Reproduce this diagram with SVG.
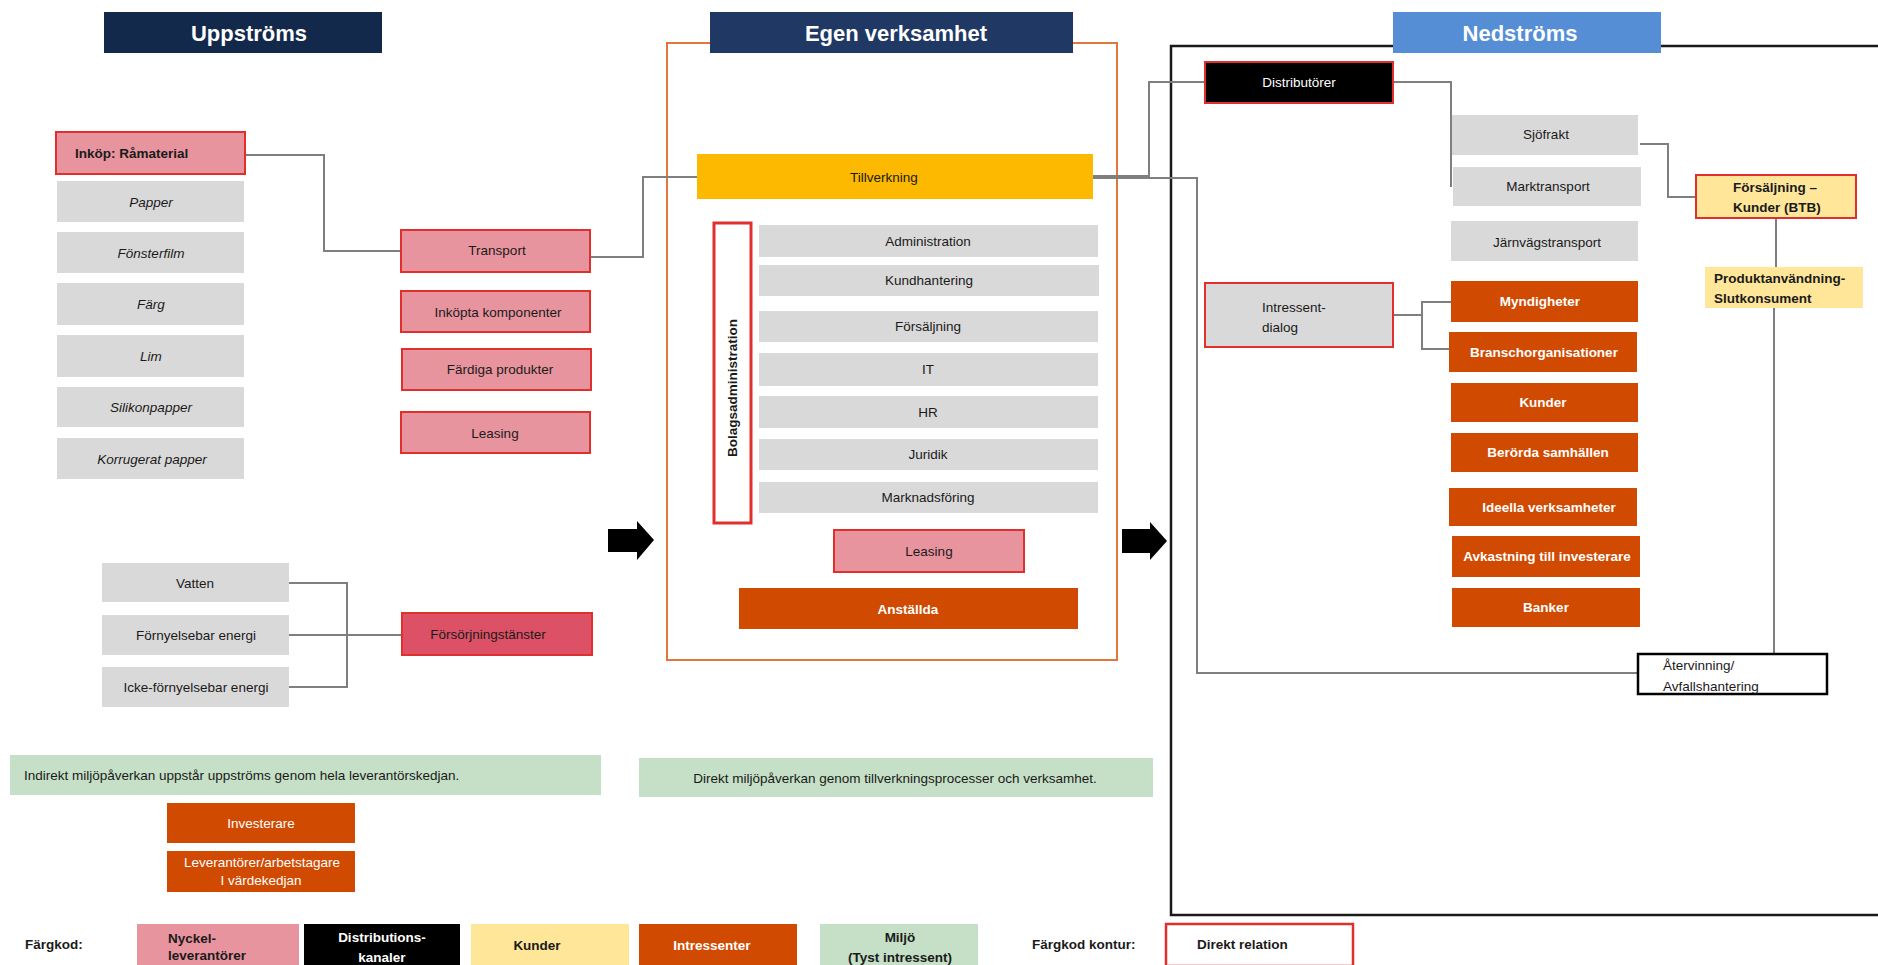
<svg xmlns="http://www.w3.org/2000/svg" width="1878" height="965" viewBox="0 0 1878 965">
<defs>
<style>
text{font-family:"Liberation Sans",Arial,sans-serif;dominant-baseline:central;fill:#1a1a1a;font-size:13.5px}
.m{text-anchor:middle}
.i{font-style:italic}
.b{font-weight:bold}
.w{fill:#fff}
.h{font-size:22px;font-weight:bold;fill:#fff;text-anchor:middle}
.g{fill:#D9D9D9}
.k{fill:#E8949E;stroke:#E0302E;stroke-width:2}
.kd{fill:#DC5166;stroke:#E0302E;stroke-width:2}
.o{fill:#D04A02}
.gr{fill:#C5E0C6}
.y{fill:#FFE699}
.c{fill:none;stroke:#7F7F7F;stroke-width:2}
.arr{fill:#000}
</style>
</defs>
<rect width="1878" height="965" fill="#fff"/>

<!-- frames -->
<g id="frame-egen"><rect x="667" y="43" width="450" height="617" fill="none" stroke="#E2773B" stroke-width="2"/></g>
<g id="frame-ned"><rect x="1171" y="46" width="712" height="869" fill="none" stroke="#1a1a1a" stroke-width="2.5"/></g>

<!-- headers -->
<g id="hdr-upp"><rect x="104" y="12" width="278" height="41" fill="#13294B"/><text class="h" x="249" y="33">Uppströms</text></g>
<g id="hdr-egen"><rect x="710" y="12" width="363" height="41" fill="#1F3864"/><text class="h" x="896" y="33">Egen verksamhet</text></g>
<g id="hdr-ned"><rect x="1393" y="12" width="268" height="41" fill="#558ED5"/><text class="h" x="1520" y="33">Nedströms</text></g>

<!-- connectors -->
<g id="connectors">
<path class="c" d="M245,155 H324 V251 H401"/>
<path class="c" d="M590,257 H643 V177 H697"/>
<path class="c" d="M289,583 H347 V687 H289 M289,635 H402"/>
<path class="c" d="M1093,176 H1149 V82 H1205"/>
<path class="c" d="M1093,178 H1197 V673 H1638"/>
<path class="c" d="M1393,82 H1451 V187"/>
<path class="c" d="M1640,144 H1668 V197 H1696"/>
<path class="c" d="M1393,315 H1422 M1451,302 H1422 V349 H1451"/>
<path class="c" d="M1776,218 V267 M1774,308 V654"/>
</g>

<!-- arrows -->
<g id="arrow-left"><path class="arr" d="M608,529 H637 V521 L654,540 L637,560 V552 H608 Z"/></g>
<g id="arrow-right"><path class="arr" d="M1122,529 H1150 V522 L1167,541 L1150,560 V553 H1122 Z"/></g>

<!-- Uppströms -->
<g id="n-inkop"><rect class="k" x="56" y="132" width="189" height="42"/><text class="b" x="75" y="153" font-size="13px">Inköp: Råmaterial</text></g>
<g id="n-papper"><rect class="g" x="57" y="181" width="187" height="41"/><text class="m i" x="151" y="202">Papper</text></g>
<g id="n-fonsterfilm"><rect class="g" x="57" y="232" width="187" height="41"/><text class="m i" x="151" y="253">Fönsterfilm</text></g>
<g id="n-farg"><rect class="g" x="57" y="283" width="187" height="42"/><text class="m i" x="151" y="304">Färg</text></g>
<g id="n-lim"><rect class="g" x="57" y="335" width="187" height="42"/><text class="m i" x="151" y="356">Lim</text></g>
<g id="n-silikon"><rect class="g" x="57" y="387" width="187" height="40"/><text class="m i" x="151" y="407">Silikonpapper</text></g>
<g id="n-korrugerat"><rect class="g" x="57" y="438" width="187" height="41"/><text class="m i" x="152" y="459">Korrugerat papper</text></g>

<g id="n-transport"><rect class="k" x="401" y="230" width="189" height="42"/><text class="m" x="497" y="250">Transport</text></g>
<g id="n-inkopta"><rect class="k" x="401" y="291" width="189" height="41"/><text class="m" x="498" y="312">Inköpta komponenter</text></g>
<g id="n-fardiga"><rect class="k" x="402" y="349" width="189" height="41"/><text class="m" x="500" y="369">Färdiga produkter</text></g>
<g id="n-leasing-up"><rect class="k" x="401" y="412" width="189" height="41"/><text class="m" x="495" y="433">Leasing</text></g>

<g id="n-vatten"><rect class="g" x="102" y="563" width="187" height="39"/><text class="m" x="195" y="583" font-size="13px">Vatten</text></g>
<g id="n-fornyelsebar"><rect class="g" x="102" y="615" width="187" height="40"/><text class="m" x="196" y="635" font-size="13px">Förnyelsebar energi</text></g>
<g id="n-icke"><rect class="g" x="102" y="667" width="187" height="40"/><text class="m" x="196" y="687" font-size="13px">Icke-förnyelsebar energi</text></g>
<g id="n-forsorjning"><rect class="kd" x="402" y="613" width="190" height="42"/><text class="m" x="488" y="634" font-size="13px">Försörjningstänster</text></g>

<g id="n-indirekt"><rect class="gr" x="10" y="755" width="591" height="40"/><text x="24" y="775" font-size="13.4px">Indirekt miljöpåverkan uppstår uppströms genom hela leverantörskedjan.</text></g>
<g id="n-investerare"><rect class="o" x="167" y="803" width="188" height="40"/><text class="m w" x="261" y="823" font-size="13px">Investerare</text></g>
<g id="n-leverantorer"><rect class="o" x="167" y="851" width="188" height="41"/><text class="m w" x="262" y="862" font-size="13px">Leverantörer/arbetstagare</text><text class="m w" x="261" y="880" font-size="13px">I värdekedjan</text></g>

<!-- Egen verksamhet -->
<g id="n-tillverkning"><rect x="697" y="154" width="396" height="45" fill="#FDB900"/><text class="m" x="884" y="177" font-size="13px">Tillverkning</text></g>
<g id="n-bolagsadmin"><rect x="714" y="223" width="37" height="300" fill="#fff" stroke="#E0302E" stroke-width="3"/><text class="m b" font-size="13px" transform="translate(732,388) rotate(-90)">Bolagsadministration</text></g>
<g id="n-administration"><rect class="g" x="759" y="225" width="339" height="32"/><text class="m" x="928" y="241" font-size="13.5px">Administration</text></g>
<g id="n-kundhantering"><rect class="g" x="759" y="265" width="340" height="31"/><text class="m" x="929" y="280" font-size="13.5px">Kundhantering</text></g>
<g id="n-forsaljning"><rect class="g" x="759" y="311" width="339" height="31"/><text class="m" x="928" y="326" font-size="13.5px">Försäljning</text></g>
<g id="n-it"><rect class="g" x="759" y="353" width="339" height="33"/><text class="m" x="928" y="369" font-size="13.5px">IT</text></g>
<g id="n-hr"><rect class="g" x="759" y="396" width="339" height="32"/><text class="m" x="928" y="412" font-size="13.5px">HR</text></g>
<g id="n-juridik"><rect class="g" x="759" y="439" width="339" height="31"/><text class="m" x="928" y="454" font-size="13.5px">Juridik</text></g>
<g id="n-marknadsforing"><rect class="g" x="759" y="482" width="339" height="31"/><text class="m" x="928" y="497" font-size="13.5px">Marknadsföring</text></g>
<g id="n-leasing-mid"><rect class="k" x="834" y="530" width="190" height="42"/><text class="m" x="929" y="551">Leasing</text></g>
<g id="n-anstallda"><rect class="o" x="739" y="588" width="339" height="41"/><text class="m b w" x="908" y="609">Anställda</text></g>
<g id="n-direkt"><rect class="gr" x="639" y="758" width="514" height="39"/><text class="m" x="895" y="778" font-size="13.8px">Direkt miljöpåverkan genom tillverkningsprocesser och verksamhet.</text></g>

<!-- Nedströms -->
<g id="n-distributorer"><rect x="1205" y="62" width="188" height="41" fill="#000" stroke="#E0302E" stroke-width="2"/><text class="m w" x="1299" y="82">Distributörer</text></g>
<g id="n-sjofrakt"><rect class="g" x="1452" y="115" width="186" height="40"/><text class="m" x="1546" y="134" font-size="14px">Sjöfrakt</text></g>
<g id="n-marktransport"><rect class="g" x="1453" y="167" width="188" height="39"/><text class="m" x="1548" y="186" font-size="14px">Marktransport</text></g>
<g id="n-jarnvag"><rect class="g" x="1451" y="221" width="187" height="40"/><text class="m" x="1547" y="242" font-size="14px">Järnvägstransport</text></g>
<g id="n-intressent"><rect x="1205" y="283" width="188" height="64" fill="#D9D9D9" stroke="#E0302E" stroke-width="2"/><text x="1262" y="307" font-size="14px">Intressent-</text><text x="1262" y="327" font-size="14px">dialog</text></g>
<g id="n-myndigheter"><rect class="o" x="1451" y="281" width="187" height="41"/><text class="m b w" x="1540" y="301" font-size="12.5px">Myndigheter</text></g>
<g id="n-bransch"><rect class="o" x="1449" y="332" width="188" height="40"/><text class="m b w" x="1544" y="352" font-size="12.5px">Branschorganisationer</text></g>
<g id="n-kunder"><rect class="o" x="1451" y="383" width="187" height="39"/><text class="m b w" x="1543" y="402" font-size="12.5px">Kunder</text></g>
<g id="n-berorda"><rect class="o" x="1451" y="433" width="187" height="39"/><text class="m b w" x="1548" y="452" font-size="12.5px">Berörda samhällen</text></g>
<g id="n-ideella"><rect class="o" x="1449" y="488" width="188" height="38"/><text class="m b w" x="1549" y="507" font-size="12.5px">Ideella verksamheter</text></g>
<g id="n-avkastning"><rect class="o" x="1452" y="536" width="188" height="41"/><text class="m b w" x="1547" y="556" font-size="12.5px">Avkastning till investerare</text></g>
<g id="n-banker"><rect class="o" x="1452" y="588" width="188" height="39"/><text class="m b w" x="1546" y="607" font-size="12.5px">Banker</text></g>
<g id="n-forsaljning-btb"><rect x="1696" y="175" width="160" height="43" fill="#FFE699" stroke="#E0302E" stroke-width="2"/><text class="b" x="1733" y="187">Försäljning –</text><text class="b" x="1733" y="207">Kunder (BTB)</text></g>
<g id="n-produkt"><rect class="y" x="1705" y="267" width="158" height="41"/><text class="b" x="1714" y="278">Produktanvändning-</text><text class="b" x="1714" y="298">Slutkonsument</text></g>
<g id="n-atervinning"><rect x="1638" y="654" width="189" height="40" fill="#fff" stroke="#000" stroke-width="2.5"/><text x="1663" y="665" font-size="14.5px">Återvinning/</text><text x="1663" y="686" font-size="14.5px">Avfallshantering</text></g>

<!-- legend -->
<g id="legend">
<text class="b" x="25" y="944" font-size="14px">Färgkod:</text>
<rect x="137" y="924" width="162" height="41" fill="#E8949E"/>
<text class="b" x="168" y="938" font-size="14px">Nyckel-</text><text class="b" x="168" y="955" font-size="14px">leverantörer</text>
<rect x="304" y="924" width="156" height="41" fill="#000"/>
<text class="m b w" x="382" y="937" font-size="14px">Distributions-</text><text class="m b w" x="382" y="957" font-size="14px">kanaler</text>
<rect x="471" y="924" width="158" height="41" fill="#FFE699"/>
<text class="m b" x="537" y="945" font-size="14px">Kunder</text>
<rect x="639" y="924" width="158" height="41" fill="#D04A02"/>
<text class="m b w" x="712" y="945" font-size="14px">Intressenter</text>
<rect x="820" y="924" width="158" height="41" fill="#C5E0C6"/>
<text class="m b" x="900" y="937" font-size="14px">Miljö</text><text class="m b" x="900" y="957" font-size="14px">(Tyst intressent)</text>
<text class="b" x="1032" y="944" font-size="14px">Färgkod kontur:</text>
<rect x="1166" y="924" width="187" height="42" fill="#fff" stroke="#E0302E" stroke-width="2.5"/>
<text class="b" x="1197" y="944" font-size="14px">Direkt relation</text>
</g>
</svg>
